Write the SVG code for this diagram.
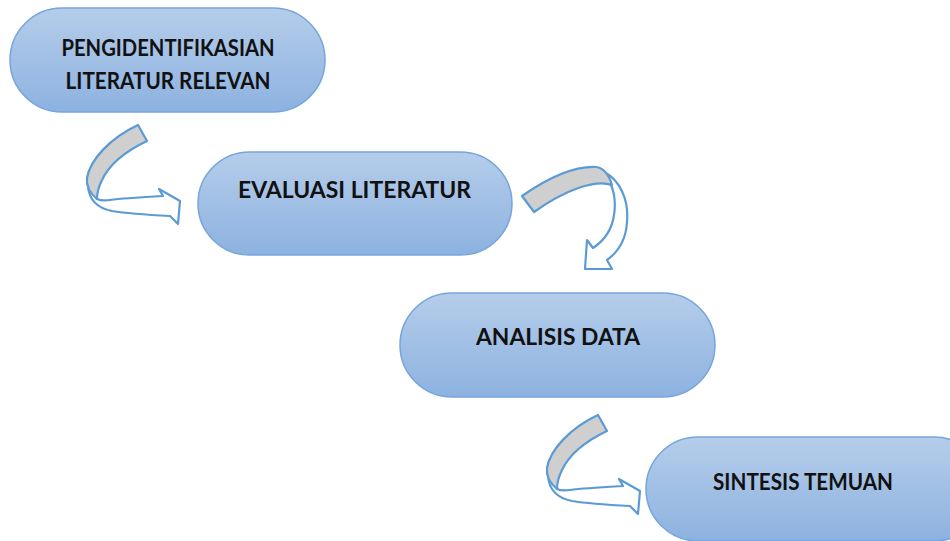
<svg xmlns="http://www.w3.org/2000/svg" width="950" height="541" viewBox="0 0 950 541">
<defs>
<linearGradient id="g" x1="0" y1="0" x2="0" y2="1">
<stop offset="0" stop-color="#b5cdea"/>
<stop offset="1" stop-color="#8db2e0"/>
</linearGradient>
<style>
.node{fill:url(#g);stroke:#76a5dc;stroke-width:1.5}
.t{font-family:Lato,"Liberation Sans",sans-serif;font-weight:bold;font-size:22px;fill:#111;text-anchor:middle}
.gray{fill:#cfcfcf;stroke:#5b9bd5;stroke-width:2.2;stroke-linejoin:round}
.wht{fill:#ffffff;stroke:#5b9bd5;stroke-width:2.2;stroke-linejoin:round}
</style>
<g id="curvedArrow">
<path class="wht" d="M88,186 C89,199 97,208 112,211 C130,214 150,215 170,216 L178,224 L180,201 L159,189 L163,196 C145,197 125,198 110,200 C103,201 99,200 97,199 Z"/>
<path class="gray" d="M138,125 L147,141 C128,150 110,163 102,180 C98,188 97,194 97,199 C90,193 86,186 87,178 C90,160 110,138 138,125 Z"/>
</g>
</defs>
<rect width="950" height="541" fill="#ffffff"/>
<g id="connectors">
<use href="#curvedArrow"/>
<g id="arrow2">
<path class="wht" d="M604,172 C620,180 629,200 627,222 C626,240 618,252 607,260 L612,269 L585,269 L587,240 L593,248 C605,240 612,230 614,215 C616,202 614,192 611,185 Z"/>
<path class="gray" d="M522,196 C545,180 572,166 596,167 C604,168 609,175 612,185 C595,179 565,190 534,212 Z"/>
</g>
<use href="#curvedArrow" transform="translate(460,290)"/>
</g>
<g id="node1">
<rect class="node" x="10" y="8" width="315" height="104" rx="52"/>
<text class="t" x="168" y="56" textLength="213" lengthAdjust="spacingAndGlyphs">PENGIDENTIFIKASIAN</text>
<text class="t" x="168" y="89" textLength="205" lengthAdjust="spacingAndGlyphs">LITERATUR RELEVAN</text>
</g>
<g id="node2">
<rect class="node" x="198" y="152" width="314" height="103" rx="51.5"/>
<text class="t" x="354.5" y="198" textLength="233" lengthAdjust="spacingAndGlyphs">EVALUASI LITERATUR</text>
</g>
<g id="node3">
<rect class="node" x="400" y="293" width="315" height="104" rx="52"/>
<text class="t" x="558" y="345" textLength="164" lengthAdjust="spacingAndGlyphs">ANALISIS DATA</text>
</g>
<g id="node4">
<rect class="node" x="646" y="437" width="340" height="104" rx="52"/>
<text class="t" x="803" y="490" textLength="180" lengthAdjust="spacingAndGlyphs">SINTESIS TEMUAN</text>
</g>
</svg>
